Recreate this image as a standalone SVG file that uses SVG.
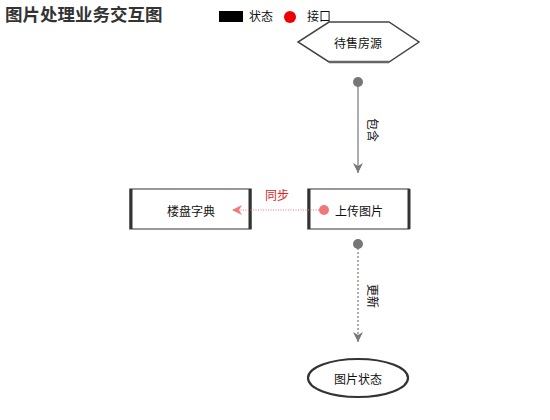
<svg xmlns="http://www.w3.org/2000/svg" width="550" height="420" viewBox="0 0 550 420">
<style>
text{font-family:"Noto Sans CJK SC","Liberation Sans",sans-serif;font-size:12px;fill:#111}
.t{dominant-baseline:central;text-anchor:middle}
.edge{stroke:#777;stroke-width:1.2;fill:none}
</style>
<defs>
<marker id="ag" viewBox="0 0 10 10" refX="10" refY="5" markerWidth="10" markerHeight="10" markerUnits="userSpaceOnUse" orient="auto">
<path d="M0,0 L10,5 L0,10 L3,5 Z" fill="#777"/>
</marker>
<marker id="ar" viewBox="0 0 10 10" refX="10" refY="5" markerWidth="10" markerHeight="10" markerUnits="userSpaceOnUse" orient="auto">
<path d="M0,0 L10,5 L0,10 L3,5 Z" fill="#f07878"/>
</marker>
</defs>
<rect width="550" height="420" fill="#fff"/>
<text x="5" y="21" style="font-size:17.5px;font-weight:bold;fill:#333">图片处理业务交互图</text>
<g id="legend">
<rect x="219" y="11" width="24" height="11" fill="#000"/>
<text x="249" y="21">状态</text>
<circle cx="290" cy="17" r="6" fill="#e00"/>
<text x="307" y="21">接口</text>
</g>
<g id="n1">
<polygon points="329,22 389,22 419,42 389,62 329,62 298,42" fill="#fff" stroke="#444" stroke-width="1.5"/>
<line x1="329" y1="62" x2="389" y2="62" stroke="#666" stroke-width="2.5"/>
<text class="t" x="358" y="42">待售房源</text>
</g>
<g id="n2">
<rect x="130" y="189" width="121" height="40" fill="#fff" stroke="#777" stroke-width="1.5"/>
<line x1="131" y1="189" x2="131" y2="229" stroke="#333" stroke-width="3"/>
<line x1="250" y1="189" x2="250" y2="229" stroke="#333" stroke-width="3"/>
<text class="t" x="191" y="210">楼盘字典</text>
</g>
<g id="n3">
<rect x="308" y="189" width="101" height="40" fill="#fff" stroke="#777" stroke-width="1.5"/>
<line x1="309" y1="189" x2="309" y2="229" stroke="#333" stroke-width="3"/>
<line x1="409" y1="189" x2="409" y2="229" stroke="#333" stroke-width="3"/>
<text class="t" x="359" y="210">上传图片</text>
</g>
<g id="n4">
<ellipse cx="358" cy="378" rx="50" ry="19" fill="#fff" stroke="#333" stroke-width="2.2"/>
<text class="t" x="358" y="378">图片状态</text>
</g>
<g id="connectors">
<circle cx="358" cy="82" r="5" fill="#777"/>
<line x1="358" y1="82" x2="358" y2="173" class="edge" marker-end="url(#ag)"/>
<text class="t" transform="translate(373,130) rotate(90)">包含</text>
<circle cx="358" cy="244" r="5" fill="#777"/>
<line x1="358" y1="244" x2="358" y2="342" class="edge" stroke-dasharray="2,2" marker-end="url(#ag)"/>
<text class="t" transform="translate(373,296) rotate(90)">更新</text>
<circle cx="324" cy="210" r="5" fill="#f07878"/>
<line x1="324" y1="210" x2="232" y2="210" stroke="#f07878" stroke-width="1.2" stroke-dasharray="1,1.5" marker-end="url(#ar)"/>
<text class="t" x="277" y="194" style="fill:#d22">同步</text>
</g>
</svg>
